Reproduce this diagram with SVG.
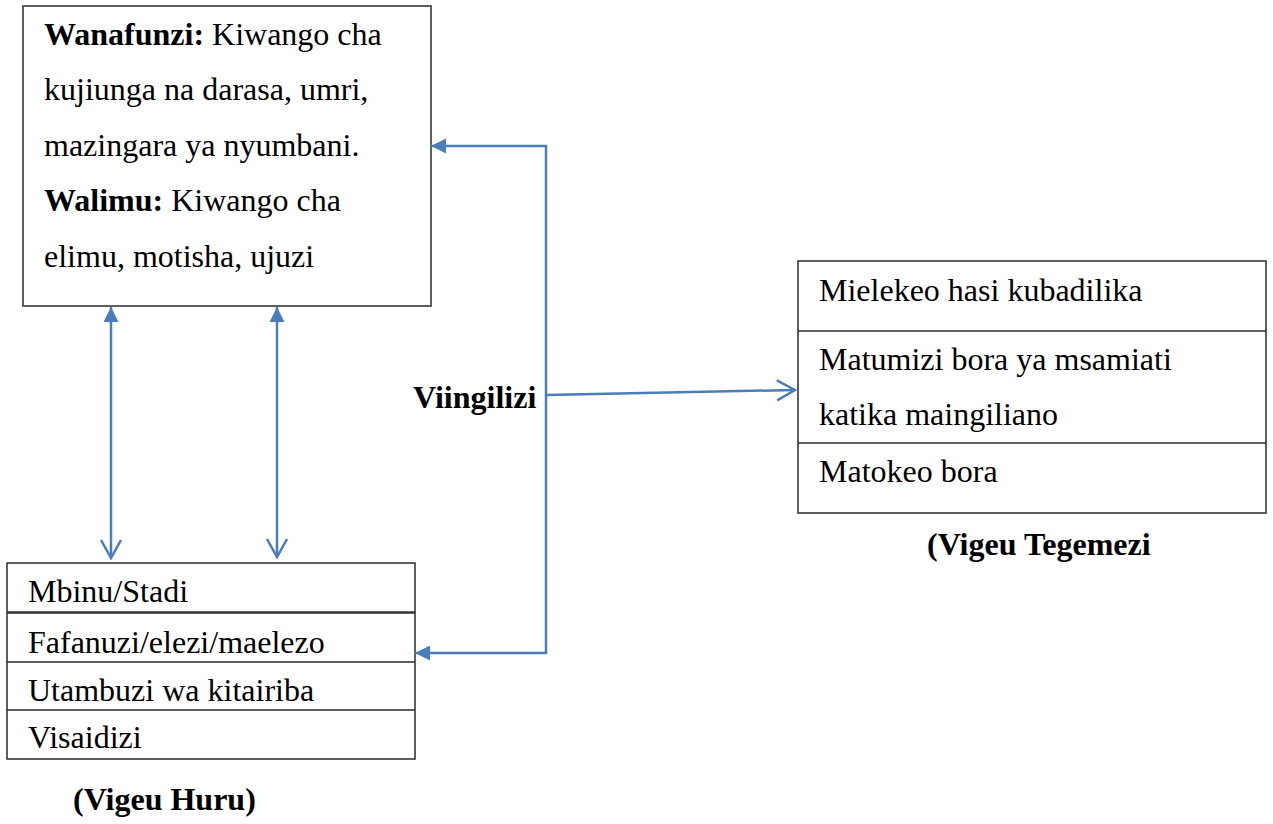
<svg xmlns="http://www.w3.org/2000/svg" width="1273" height="824" viewBox="0 0 1273 824">
<style>
.box{fill:#fff;stroke:#2b2b2b;stroke-width:1.5}
.div{stroke:#2b2b2b;stroke-width:1.5}
.t{font-family:"Liberation Serif","Times New Roman",serif;font-size:32px;fill:#000}
.b{font-weight:bold}
.c{fill:none;stroke:#4a7ebb;stroke-width:2.5}
</style>
<defs>
<marker id="fill" viewBox="0 0 15 15" markerUnits="userSpaceOnUse" markerWidth="15" markerHeight="15" refX="15" refY="7.5" orient="auto-start-reverse">
<path d="M0,0 L15,7.5 L0,15 z" fill="#4a7ebb"/>
</marker>
<marker id="open" viewBox="-2 -2 22 24" markerUnits="userSpaceOnUse" markerWidth="22" markerHeight="24" refX="18" refY="10" orient="auto">
<path d="M0,0 L18,10 L0,20" fill="none" stroke="#4a7ebb" stroke-width="2.5"/>
</marker>
</defs>
<rect width="1273" height="824" fill="#fff"/>

<g id="node-wanafunzi">
<rect class="box" x="23" y="6" width="408" height="300"/>
<text class="t" x="44" y="45"><tspan class="b">Wanafunzi:</tspan> Kiwango cha</text>
<text class="t" x="44" y="100">kujiunga na darasa, umri,</text>
<text class="t" x="44" y="156">mazingara ya nyumbani.</text>
<text class="t" x="44" y="211"><tspan class="b">Walimu:</tspan> Kiwango cha</text>
<text class="t" x="44" y="267">elimu, motisha, ujuzi</text>
</g>

<g id="node-vigeu-huru">
<rect class="box" x="7" y="563" width="408" height="49"/>
<rect class="box" x="7" y="613" width="408" height="146"/>
<line class="div" x1="7" y1="662" x2="415" y2="662"/>
<line class="div" x1="7" y1="710" x2="415" y2="710"/>
<text class="t" x="28" y="602">Mbinu/Stadi</text>
<text class="t" x="28" y="653">Fafanuzi/elezi/maelezo</text>
<text class="t" x="28" y="701">Utambuzi wa kitairiba</text>
<text class="t" x="28" y="748">Visaidizi</text>
<text class="t b" x="73" y="810">(Vigeu Huru)</text>
</g>

<g id="node-vigeu-tegemezi">
<rect class="box" x="798" y="261" width="468" height="252"/>
<line class="div" x1="798" y1="331" x2="1266" y2="331"/>
<line class="div" x1="798" y1="443" x2="1266" y2="443"/>
<text class="t" x="819" y="301">Mielekeo hasi kubadilika</text>
<text class="t" x="819" y="370">Matumizi bora ya msamiati</text>
<text class="t" x="819" y="425">katika maingiliano</text>
<text class="t" x="819" y="482">Matokeo bora</text>
<text class="t b" x="927" y="555">(Vigeu Tegemezi</text>
</g>

<g id="node-viingilizi">
<text class="t b" x="413" y="408">Viingilizi</text>
</g>

<g id="connectors">
<path class="c" d="M111,307 L111,558" marker-start="url(#fill)" marker-end="url(#open)"/>
<path class="c" d="M277,307 L277,557" marker-start="url(#fill)" marker-end="url(#open)"/>
<path class="c" d="M431,146 L546,146 L546,653 L415,653" marker-start="url(#fill)" marker-end="url(#fill)"/>
<path class="c" d="M546,395 L795,390" marker-end="url(#open)"/>
</g>
</svg>
